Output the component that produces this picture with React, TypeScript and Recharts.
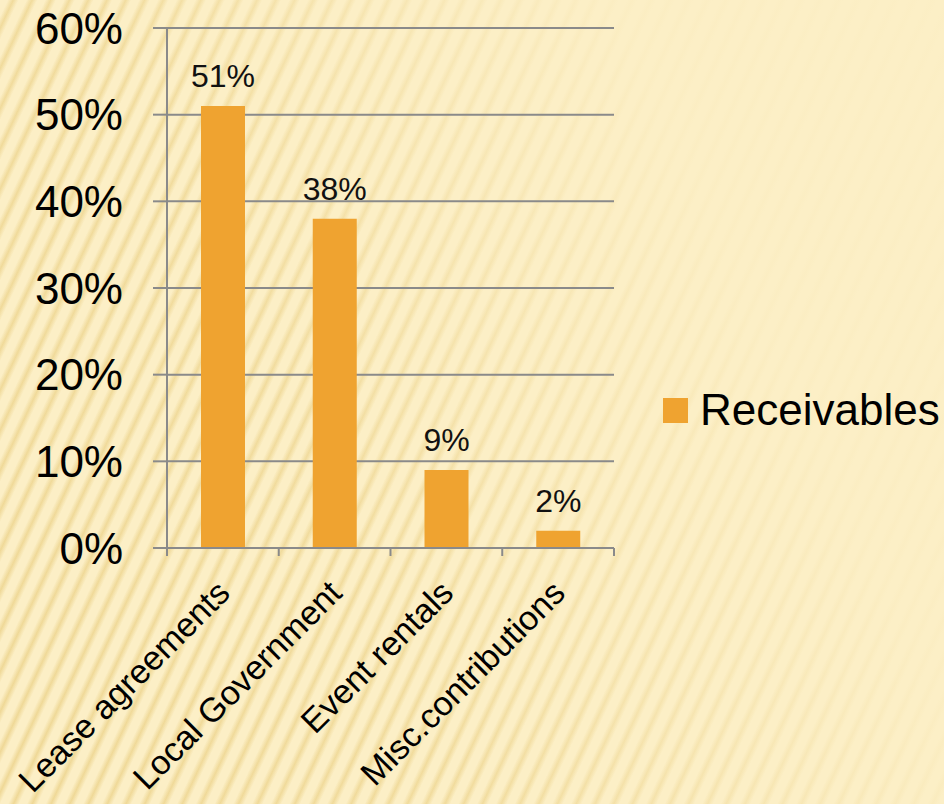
import React from 'react';
import { BarChart, Bar, XAxis, YAxis, CartesianGrid, Legend, LabelList } from 'recharts';

const categories = ['Lease agreements', 'Local Government', 'Event rentals', 'Misc.contributions'];
const receivables = [51, 38, 9, 2];
const yTicks = [0, 10, 20, 30, 40, 50, 60];

const data = categories.map((name, i) => ({ name, value: receivables[i] }));

const W = 944;
const H = 804;
const M = { top: 28, right: 330, left: 0, bottom: 56 };
const Y_AXIS_W = 167;
const BAND = (W - M.left - M.right - Y_AXIS_W) / categories.length;

const FONT = '"Liberation Sans", Arial, sans-serif';
const AXIS = '#8a8a8a';
const BAR = '#EFA330';

const CategoryTick = (props: any) => {
  const { x, y, payload, index } = props;
  const half = BAND / 2;
  const ax = x + 9;
  const ay = y + 39;
  return (
    <g>
      <line x1={x - half} y1={y - 8} x2={x - half} y2={y} stroke={AXIS} strokeWidth={2} />
      {index === categories.length - 1 && (
        <line x1={x + half} y1={y - 8} x2={x + half} y2={y} stroke={AXIS} strokeWidth={2} />
      )}
      <text
        x={ax}
        y={ay}
        textAnchor="end"
        transform={`rotate(-45, ${ax}, ${ay})`}
        fontSize={34}
        fontFamily={FONT}
        fill="#000"
      >
        {payload.value}
      </text>
    </g>
  );
};

const LegendContent = () => (
  <div style={{ display: 'flex', alignItems: 'center', fontFamily: FONT }}>
    <div style={{ width: 25, height: 25, background: BAR, marginRight: 12 }} />
    <span style={{ fontSize: 44, color: '#000', lineHeight: '48px' }}>Receivables</span>
  </div>
);

export default function App() {
  return (
    <div
      style={{
        position: 'absolute',
        left: 0,
        top: 0,
        width: W,
        height: H,
        background:
          'linear-gradient(65deg, rgba(252,239,198,0) 0%, rgba(252,239,198,0.15) 35%, rgba(252,239,198,0.92) 75%, rgba(252,239,198,0.97) 100%), ' +
          'repeating-linear-gradient(115deg, #FCEFC6 0px, #FCEFC6 7px, #EFD896 12px, #FCEFC6 17px), #FCEFC6',
      }}
    >
      <BarChart width={W} height={H} data={data} margin={M}>
        <CartesianGrid vertical={false} stroke={AXIS} strokeWidth={2} />
        <XAxis
          dataKey="name"
          height={200}
          interval={0}
          tickSize={8}
          tickMargin={0}
          tickLine={false}
          axisLine={{ stroke: AXIS, strokeWidth: 2 }}
          tick={<CategoryTick />}
        />
        <YAxis
          width={Y_AXIS_W}
          domain={[0, 60]}
          ticks={yTicks}
          tickFormatter={(v: number) => `${v}%`}
          tickSize={14}
          tickMargin={30}
          tickLine={{ stroke: AXIS, strokeWidth: 2 }}
          axisLine={{ stroke: AXIS, strokeWidth: 2 }}
          tick={{ fontSize: 44, fill: '#000', fontFamily: FONT }}
        />
        <Legend
          layout="horizontal"
          verticalAlign="middle"
          align="center"
          content={<LegendContent />}
          wrapperStyle={{ position: 'absolute', left: 663, top: 386, width: 281 }}
        />
        <Bar dataKey="value" name="Receivables" fill={BAR} barSize={44} isAnimationActive={false}>
          <LabelList
            dataKey="value"
            position="top"
            offset={19}
            formatter={(v: any) => `${v}%`}
            style={{ fontSize: 32, fill: '#111', fontFamily: FONT }}
          />
        </Bar>
      </BarChart>
    </div>
  );
}
